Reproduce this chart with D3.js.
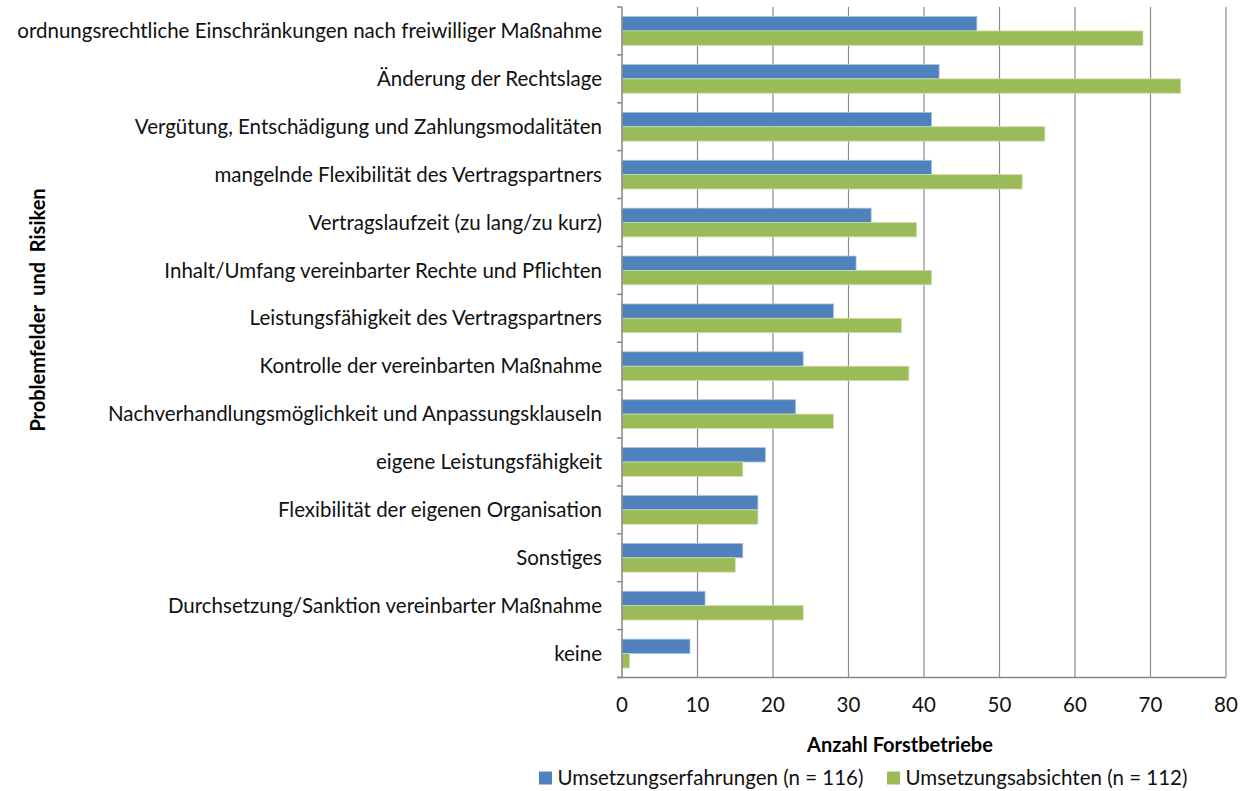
<!DOCTYPE html>
<html>
<head>
<meta charset="utf-8">
<script src="https://cdn.jsdelivr.net/npm/d3@7"></script>
<style>
	body { margin: 0; background: #fff; }
	svg { font-family: Lato, 'Open Sans', sans-serif; }
</style>
</head>
<body>
<div id="chart"></div>
<script>
const categories = [
	'ordnungsrechtliche Einschränkungen nach freiwilliger Maßnahme',
	'Änderung der Rechtslage',
	'Vergütung, Entschädigung und Zahlungsmodalitäten',
	'mangelnde Flexibilität des Vertragspartners',
	'Vertragslaufzeit (zu lang/zu kurz)',
	'Inhalt/Umfang vereinbarter Rechte und Pflichten',
	'Leistungsfähigkeit des Vertragspartners',
	'Kontrolle der vereinbarten Maßnahme',
	'Nachverhandlungsmöglichkeit und Anpassungsklauseln',
	'eigene Leistungsfähigkeit',
	'Flexibilität der eigenen Organisation',
	'Sonstiges',
	'Durchsetzung/Sanktion vereinbarter Maßnahme',
	'keine'
];
const erfahrungen = [47, 42, 41, 41, 33, 31, 28, 24, 23, 19, 18, 16, 11, 9];
const absichten = [69, 74, 56, 53, 39, 41, 37, 38, 28, 16, 18, 15, 24, 1];
const seriesNames = ['Umsetzungserfahrungen (n = 116)', 'Umsetzungsabsichten (n = 112)'];
const seriesColors = ['#4f81bd', '#9bbb59'];
const xTicks = [0, 10, 20, 30, 40, 50, 60, 70, 80];

const width = 1247, height = 791;
const plot = {left: 622, right: 1226, top: 7, bottom: 677.5};
const fontSize = 20.5;

const rows = categories.map((c, i) => ({cat: c, values: [erfahrungen[i], absichten[i]]}));

const svg = d3.select('#chart').append('svg')
	.attr('width', width)
	.attr('height', height);

const x = d3.scaleLinear().domain([0, 80]).range([plot.left, plot.right]);
const y = d3.scaleBand().domain(categories).range([plot.top, plot.bottom])
	.paddingInner(0.4).paddingOuter(0.2);
const ySub = d3.scaleBand().domain([0, 1]).range([0, y.bandwidth()]);
const step = y.step();

// gridlines
svg.append('g')
	.selectAll('line')
	.data(xTicks.slice(1))
	.enter()
	.append('line')
		.attr('x1', d => x(d)).attr('x2', d => x(d))
		.attr('y1', plot.top).attr('y2', plot.bottom)
		.attr('stroke', '#8c8c8c')
		.attr('stroke-width', 1.2);

// bars
const groups = svg.selectAll('.row')
	.data(rows)
	.enter()
	.append('g')
	.attr('class', 'row')
	.attr('transform', d => `translate(0, ${y(d.cat)})`);

groups.selectAll('rect')
	.data(d => d.values)
	.enter()
	.append('rect')
		.attr('x', x(0))
		.attr('y', (d, i) => ySub(i))
		.attr('width', d => x(d) - x(0))
		.attr('height', ySub.bandwidth())
		.attr('fill', (d, i) => seriesColors[i])
		.attr('stroke', (d, i) => i === 0 ? '#a9c2e2' : '#cbdcac')
		.attr('stroke-width', 0.8);

// axes lines
const axisColor = '#868686';
svg.append('line')
	.attr('x1', plot.left).attr('x2', plot.left)
	.attr('y1', plot.top).attr('y2', plot.bottom)
	.attr('stroke', axisColor).attr('stroke-width', 1.5);
svg.append('line')
	.attr('x1', plot.left - 5).attr('x2', plot.right)
	.attr('y1', plot.bottom).attr('y2', plot.bottom)
	.attr('stroke', axisColor).attr('stroke-width', 1.5);

svg.append('g')
	.selectAll('line')
	.data(d3.range(categories.length + 1))
	.enter()
	.append('line')
		.attr('x1', plot.left - 5).attr('x2', plot.left)
		.attr('y1', i => plot.top + i * step).attr('y2', i => plot.top + i * step)
		.attr('stroke', axisColor).attr('stroke-width', 1.5);

// category labels
svg.append('g')
	.selectAll('text')
	.data(categories)
	.enter()
	.append('text')
		.attr('x', 602)
		.attr('y', d => y(d) + y.bandwidth() / 2)
		.attr('dy', '0.35em')
		.attr('text-anchor', 'end')
		.attr('font-size', fontSize)
		.attr('fill', '#111')
		.text(d => d);

// x tick labels
svg.append('g')
	.selectAll('text')
	.data(xTicks)
	.enter()
	.append('text')
		.attr('x', d => x(d))
		.attr('y', 705)
		.attr('dy', '0.35em')
		.attr('text-anchor', 'middle')
		.attr('font-size', fontSize)
		.attr('fill', '#111')
		.text(d => d);

// axis titles
svg.append('text')
	.attr('x', 900).attr('y', 745)
	.attr('dy', '0.35em')
	.attr('text-anchor', 'middle')
	.attr('font-size', 20)
	.attr('font-weight', 'bold')
	.text('Anzahl Forstbetriebe');

svg.append('text')
	.attr('transform', 'translate(38, 310) rotate(-90)')
	.attr('dy', '0.35em')
	.attr('text-anchor', 'middle')
	.attr('font-size', 20)
	.attr('font-weight', 'bold')
	.style('white-space', 'pre')
	.text('Problemfelder  und  Risiken');

// legend
const legendX = [539, 887];
const legend = svg.selectAll('.legend')
	.data(seriesNames)
	.enter()
	.append('g')
	.attr('class', 'legend')
	.attr('transform', (d, i) => `translate(${legendX[i]}, 778)`);

legend.append('rect')
	.attr('x', 0).attr('y', -6.5)
	.attr('width', 13).attr('height', 13)
	.attr('fill', (d, i) => seriesColors[i]);

legend.append('text')
	.attr('x', 18.5).attr('y', 0)
	.attr('dy', '0.35em')
	.attr('font-size', fontSize)
	.attr('fill', '#111')
	.text(d => d);
</script>
</body>
</html>
